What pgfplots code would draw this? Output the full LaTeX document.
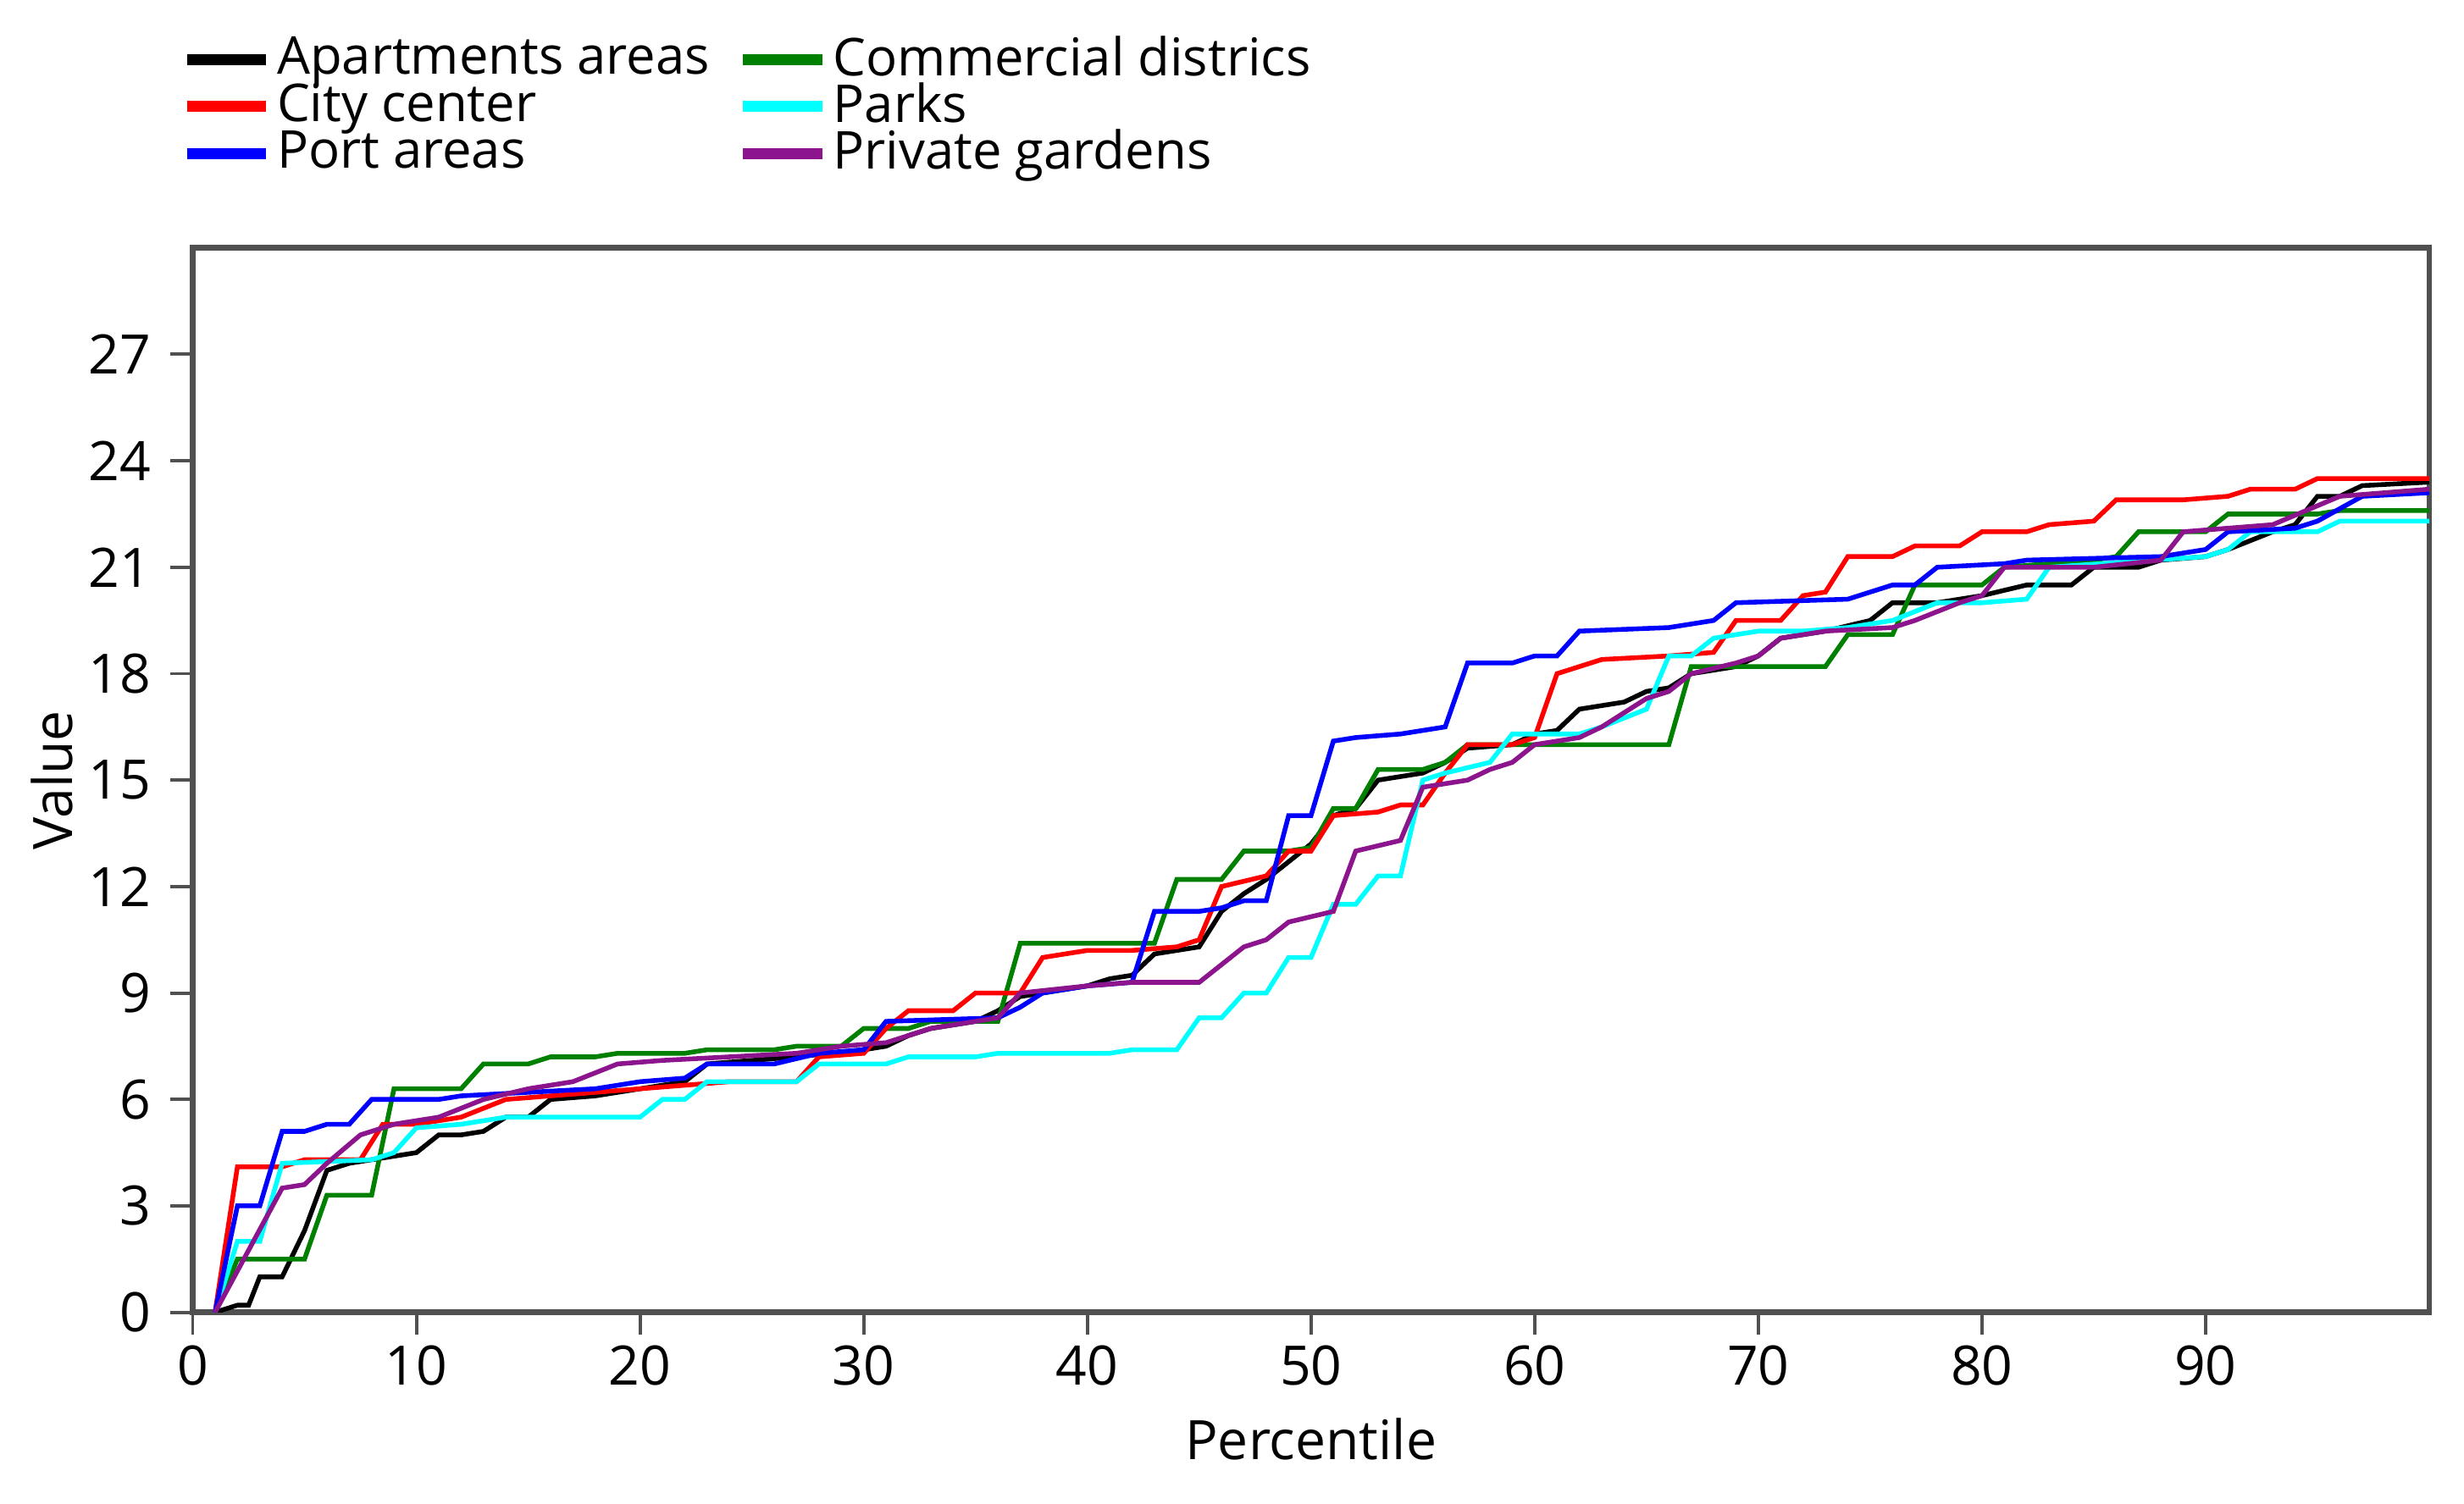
\documentclass[border=0pt]{standalone}
\usepackage{pgfplots}
\pgfplotsset{compat=1.18}
\usepackage{fontspec}
\setmainfont{Open Sans}

\definecolor{cgreen}{RGB}{0,128,0}
\definecolor{ccyan}{RGB}{0,255,255}
\definecolor{cpurple}{RGB}{140,20,140}
\definecolor{frame}{RGB}{80,80,80}

\begin{document}
\begin{tikzpicture}
\useasboundingbox (-1.22cm,-1.21cm) rectangle (14.38cm,8.31cm);
\begin{axis}[
    scale only axis,
    width=14.16cm, height=6.74cm,
    xmin=0, xmax=100, ymin=0, ymax=30,
    xtick={0,10,...,90}, ytick={0,3,...,27},
    tick align=outside, major tick length=0.14cm,
    tick style={frame, line width=0.6pt},
    axis line style={frame, line width=1pt},
    xtick pos=bottom, ytick pos=left,
    tick label style={font=\fontsize{9.8}{11}\selectfont},
    xticklabel style={yshift=1.5pt},
    /pgf/number format/assume math mode=true,
    xlabel={Percentile}, ylabel={Value},
    label style={font=\fontsize{9.8}{11}\selectfont},
    xlabel style={yshift=1pt},
    ylabel style={yshift=-4pt},
    legend columns=2,
    legend cell align=left,
    legend style={draw=none, fill=none, at={(-0.013,1.216)}, anchor=north west,
        font=\fontsize{9.4}{9.4}\selectfont, row sep=-2.2pt,
        /tikz/every even column/.append style={column sep=0.14cm},
        nodes={inner sep=1pt}},
    legend image code/.code={\draw[line width=2pt] (0cm,0cm) -- (0.5cm,0cm);},
    every axis plot/.append style={line width=0.85pt},
]
% Apartments areas
\addplot[black] coordinates {
(1,0)(2,0.2)(2.5,0.2)(3,1.0)(4,1.0)(5,2.3)(6,4.0)(7,4.2)(8,4.3)(9,4.4)(10,4.5)
(11,5.0)(12,5.0)(13,5.1)(14,5.5)(15,5.5)(16,6.0)(18,6.1)(20,6.3)(22,6.5)(23,7.0)
(27,7.2)(30,7.4)(31,7.5)(32,7.8)(33,8.0)(35,8.2)(36,8.5)(37,8.9)(38,9.0)(40,9.2)
(41,9.4)(42,9.5)(43,10.1)(45,10.3)(46,11.3)(47,11.8)(48,12.2)(49,12.7)(50,13.2)
(51,14.0)(52,14.2)(53,15.0)(55,15.2)(56,15.5)(57,15.9)(59,16.0)(60,16.3)(61,16.4)
(62,17.0)(64,17.2)(65,17.5)(66,17.6)(67,18.0)(69,18.2)(70,18.5)(71,19.0)(73,19.2)
(75,19.5)(76,20.0)(78,20.0)(80,20.2)(82,20.5)(84,20.5)(85,21.0)(87,21.0)(88,21.2)
(90,21.3)(91,21.5)(93,22.0)(94,22.2)(95,23.0)(96,23.0)(97,23.3)(100,23.4)
};
\addlegendentry{Apartments areas}
% Commercial districs
\addplot[cgreen] coordinates {
(1,0)(2,1.5)(5,1.5)(6,3.3)(8,3.3)(9,6.3)(12,6.3)(13,7.0)(15,7.0)(16,7.2)(18,7.2)
(19,7.3)(22,7.3)(23,7.4)(26,7.4)(27,7.5)(29,7.5)(30,8.0)(32,8.0)(33,8.2)(36,8.2)
(37,10.4)(43,10.4)(44,12.2)(46,12.2)(47,13.0)(49,13.0)(50,13.1)(51,14.2)(52,14.2)
(53,15.3)(55,15.3)(56,15.5)(57,16.0)(66,16.0)(67,18.2)(73,18.2)(74,19.1)(76,19.1)
(77,20.5)(80,20.5)(81,21.0)(85,21.2)(86,21.3)(87,22.0)(90,22.0)(91,22.5)(95,22.5)
(96,22.6)(100,22.6)
};
\addlegendentry{Commercial districs}
% City center
\addplot[red] coordinates {
(1,0)(2,4.1)(4,4.1)(5,4.3)(7.5,4.3)(8.5,5.3)(10,5.3)(12,5.5)(14,6.0)(16,6.1)
(20,6.3)(22,6.4)(24,6.5)(27,6.5)(28,7.2)(30,7.3)(31,8.0)(32,8.5)(34,8.5)(35,9.0)
(37,9.0)(38,10.0)(40,10.2)(42,10.2)(44,10.3)(45,10.5)(46,12.0)(48,12.3)(49,13.0)
(50,13.0)(51,14.0)(53,14.1)(54,14.3)(55,14.3)(56,15.2)(57,16.0)(59,16.0)(60,16.2)
(61,18.0)(62,18.2)(63,18.4)(66,18.5)(68,18.6)(69,19.5)(71,19.5)(72,20.2)(73,20.3)
(74,21.3)(76,21.3)(77,21.6)(79,21.6)(80,22.0)(82,22.0)(83,22.2)(85,22.3)(86,22.9)
(89,22.9)(91,23.0)(92,23.2)(94,23.2)(95,23.5)(100,23.5)
};
\addlegendentry{City center}
% Parks
\addplot[ccyan] coordinates {
(1,0)(2,2.0)(3,2.0)(4,4.2)(8,4.3)(9,4.5)(10,5.2)(12,5.3)(14,5.5)(20,5.5)(21,6.0)
(22,6.0)(23,6.5)(27,6.5)(28,7.0)(31,7.0)(32,7.2)(35,7.2)(36,7.3)(41,7.3)(42,7.4)
(44,7.4)(45,8.3)(46,8.3)(47,9.0)(48,9.0)(49,10.0)(50,10.0)(51,11.5)(52,11.5)
(53,12.3)(54,12.3)(55,15.0)(56,15.2)(58,15.5)(59,16.3)(62,16.3)(63,16.5)(65,17.0)
(66,18.5)(67,18.5)(68,19.0)(70,19.2)(72,19.2)(74,19.3)(76,19.5)(78,20.0)(80,20.0)
(82,20.1)(83,21.0)(90,21.3)(91,21.5)(92,22.0)(95,22.0)(96,22.3)(100,22.3)
};
\addlegendentry{Parks}
% Port areas
\addplot[blue] coordinates {
(1,0)(2,3.0)(3,3.0)(4,5.1)(5,5.1)(6,5.3)(7,5.3)(8,6.0)(11,6.0)(12,6.1)(15,6.2)
(18,6.3)(20,6.5)(22,6.6)(23,7.0)(26,7.0)(28,7.3)(30,7.4)(31,8.2)(36,8.3)(37,8.6)
(38,9.0)(40,9.2)(42,9.3)(43,11.3)(45,11.3)(46,11.4)(47,11.6)(48,11.6)(49,14.0)
(50,14.0)(51,16.1)(52,16.2)(54,16.3)(56,16.5)(57,18.3)(59,18.3)(60,18.5)(61,18.5)
(62,19.2)(66,19.3)(68,19.5)(69,20.0)(74,20.1)(76,20.5)(77,20.5)(78,21.0)(81,21.1)
(82,21.2)(88,21.3)(90,21.5)(91,22.0)(94,22.1)(95,22.3)(97,23.0)(100,23.1)
};
\addlegendentry{Port areas}
% Private gardens
\addplot[cpurple] coordinates {
(1,0)(4,3.5)(5,3.6)(6,4.2)(7.5,5.0)(8,5.1)(9,5.3)(11,5.5)(13,6.0)(15,6.3)(17,6.5)
(19,7.0)(21,7.1)(24,7.2)(27,7.3)(29,7.5)(31,7.6)(32,7.8)(33,8.0)(36,8.3)(37,9.0)
(40,9.2)(42,9.3)(45,9.3)(47,10.3)(48,10.5)(49,11.0)(51,11.3)(52,13.0)(54,13.3)
(55,14.8)(57,15.0)(58,15.3)(59,15.5)(60,16.0)(62,16.2)(63,16.5)(65,17.3)(66,17.5)
(67,18.0)(69,18.3)(70,18.5)(71,19.0)(73,19.2)(76,19.3)(77,19.5)(79,20.0)(80,20.2)
(81,21.0)(85,21.0)(88,21.2)(89,22.0)(93,22.2)(96,23.0)(100,23.2)
};
\addlegendentry{Private gardens}
\end{axis}
\end{tikzpicture}
\end{document}
